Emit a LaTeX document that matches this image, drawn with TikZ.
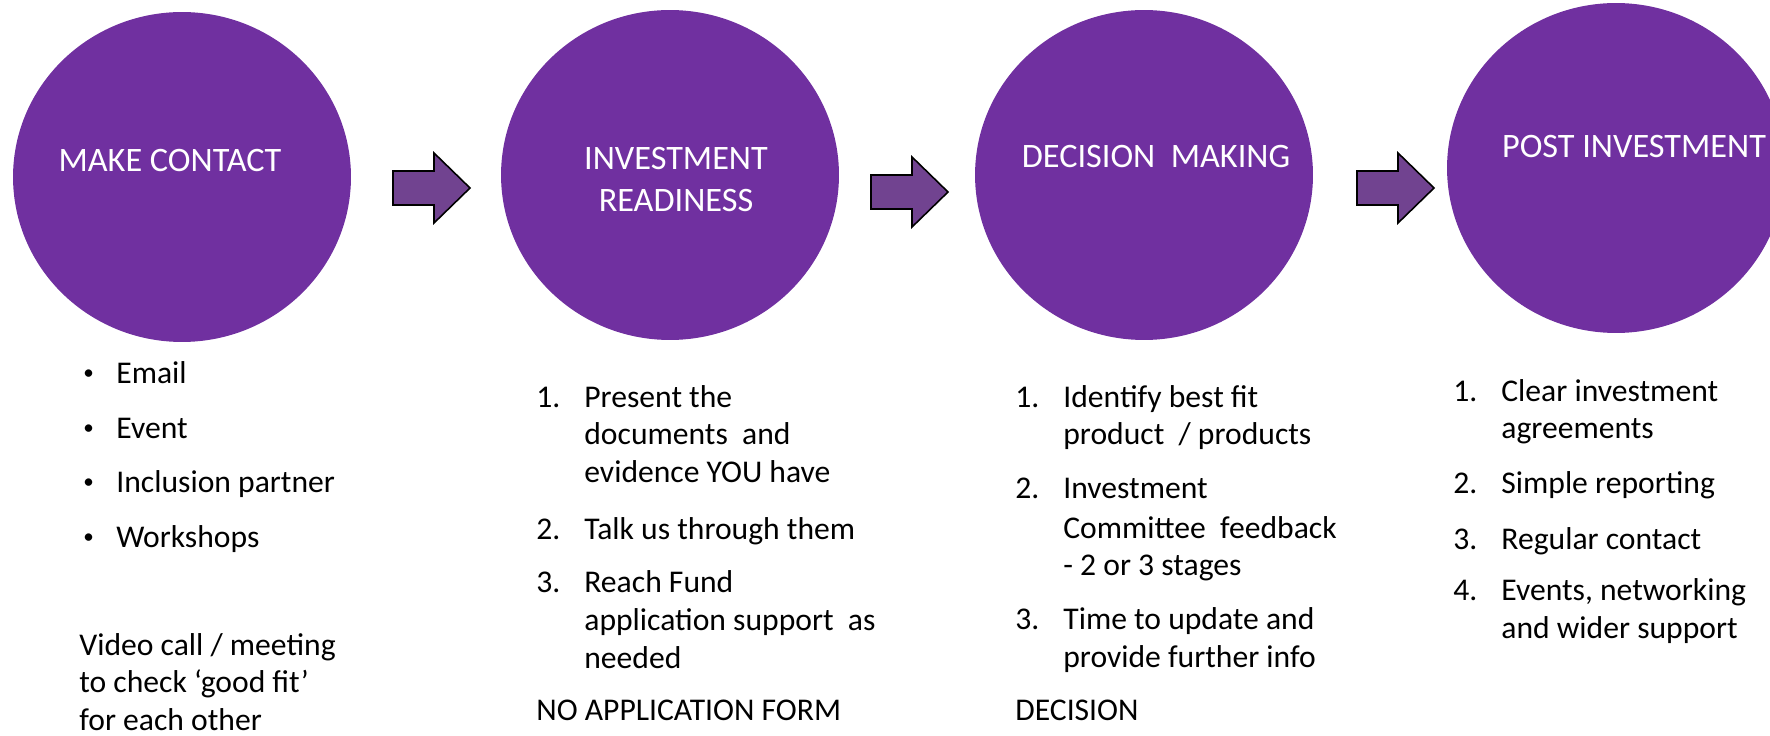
\documentclass[tikz,border=0pt]{standalone}
\usepackage{fontspec}
\setmainfont{Carlito}
\usepackage{tikz}
\usetikzlibrary{shapes.geometric}

\definecolor{stagepurple}{HTML}{7030A0}
\definecolor{arrowpurple}{RGB}{113,67,144}

\begin{document}
\begin{tikzpicture}[x=0.02cm, y=-0.02cm,
    stage/.style={ellipse, fill=stagepurple, inner sep=0pt, minimum width=6.76cm, minimum height=6.6cm},
    title/.style={anchor=base, text=white, inner sep=0pt, font=\fontsize{19.5}{23}\selectfont},
    txt/.style={anchor=base west, inner sep=0pt, font=\fontsize{18}{21}\selectfont},
    dot/.style={anchor=base west, inner sep=0pt, font=\fontsize{12}{12}\selectfont}]
    \def\blockarrow{-- ++(41,0) -- ++(0,-18) -- ++(36,35) -- ++(-36,35) -- ++(0,-18) -- ++(-41,0) -- cycle}

    \useasboundingbox (0,0) rectangle (1770,736);

    \node[stage] (contact) at (182,177) {};
    \node[stage] (ready) at (670,175) {};
    \node[stage] (decide) at (1144,175) {};
    \node[stage] (post) at (1616,168) {};

    \foreach \x/\y in {393/171, 871/175, 1357/171}
        \filldraw[fill=arrowpurple, draw=black, line width=0.9pt] (\x,\y) \blockarrow;

    \node[title] (contact-t) at (170,172) {MAKE CONTACT};
    \node[title] (ready-t1) at (676,170) {INVESTMENT};
    \node[title] (ready-t2) at (676,212) {READINESS};
    \node[title] (decide-t) at (1156,168) {DECISION~ MAKING};
    \node[title] (post-t) at (1634,158) {POST INVESTMENT};

    % make contact
    \foreach \y/\t [count=\i] in {383/Email, 438/Event, 492/Inclusion partner, 547/Workshops} {
        \node[dot] (contact-b\i) at (83,\y-4) {\textbullet};
        \node[txt] (contact-l\i) at (116,\y) {\t};
    }
    \foreach \y/\t [count=\i] in {655/{Video call / meeting}, 692/to check ‘good fit’, 730/for each other}
        \node[txt] (contact-v\i) at (79,\y) {\t};

    % investment readiness
    \foreach \n/\y in {1/407, 2/539, 3/592}
        \node[txt] (ready-n\n) at (536,\y) {\n.};
    \foreach \y/\t [count=\i] in {407/Present the, 444/documents~ and, 482/evidence YOU have,
        539/Talk us through them, 592/Reach Fund, 630/application support~ as, 668/needed}
        \node[txt] (ready-l\i) at (584,\y) {\t};
    \node[txt] (ready-end) at (536,720) {NO APPLICATION FORM};

    % decision making
    \foreach \n/\y in {1/407, 2/498, 3/629}
        \node[txt] (decide-n\n) at (1015,\y) {\n.};
    \foreach \y/\t [count=\i] in {407/Identify best fit, 444/{product~ / products}, 498/Investment,
        538/Committee~ feedback, 575/- 2 or 3 stages, 629/Time to update and, 667/provide further info}
        \node[txt] (decide-l\i) at (1063,\y) {\t};
    \node[txt] (decide-end) at (1015,720) {DECISION};

    % post investment
    \foreach \n/\y in {1/401, 2/493, 3/549, 4/600}
        \node[txt] (post-n\n) at (1453,\y) {\n.};
    \foreach \y/\t [count=\i] in {401/Clear investment, 438/agreements, 493/Simple reporting,
        549/Regular contact, 600/{Events, networking}, 638/and wider support}
        \node[txt] (post-l\i) at (1501,\y) {\t};
\end{tikzpicture}
\end{document}
